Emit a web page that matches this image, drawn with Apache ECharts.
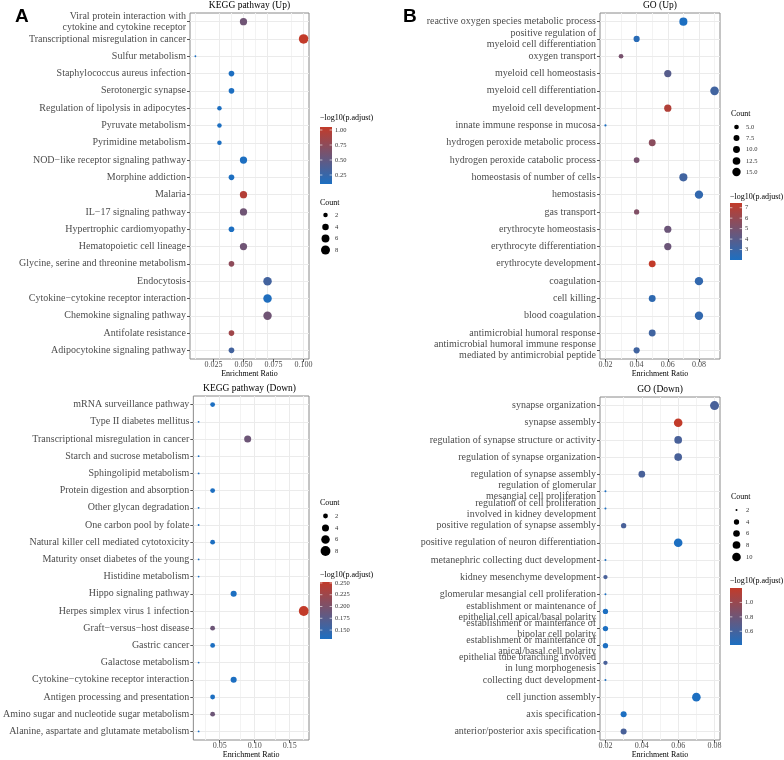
<!DOCTYPE html>
<html><head><meta charset="utf-8">
<script src="https://cdn.jsdelivr.net/npm/echarts@6/dist/echarts.min.js"></script>
<style>html,body{margin:0;padding:0;background:#fff}#c{width:784px;height:760px}</style>
</head><body><div id="c"></div><script>
// ---------------- DATA ----------------
const keggUpTerms = ['Viral protein interaction with\ncytokine and cytokine receptor','Transcriptional misregulation in cancer','Sulfur metabolism','Staphylococcus aureus infection','Serotonergic synapse','Regulation of lipolysis in adipocytes','Pyruvate metabolism','Pyrimidine metabolism','NOD\u2212like receptor signaling pathway','Morphine addiction','Malaria','IL\u221217 signaling pathway','Hypertrophic cardiomyopathy','Hematopoietic cell lineage','Glycine, serine and threonine metabolism','Endocytosis','Cytokine\u2212cytokine receptor interaction','Chemokine signaling pathway','Antifolate resistance','Adipocytokine signaling pathway'];
const keggUpRatio = [0.05,0.10,0.01,0.04,0.04,0.03,0.03,0.03,0.05,0.04,0.05,0.05,0.04,0.05,0.04,0.07,0.07,0.07,0.04,0.04];
const keggUpCount = [5,9,1,3,3,2,2,2,5,3,5,5,3,5,3,7,7,7,3,3];
const keggUpLogP  = [0.58,1.05,0.10,0.10,0.10,0.10,0.10,0.10,0.10,0.10,0.97,0.58,0.10,0.58,0.75,0.32,0.12,0.58,0.85,0.32];
const keggUpXTicks = [0.025,0.05,0.075,0.1];
const keggUpXLabels = ['0.025','0.050','0.075','0.100'];
const keggUpCountTicks = [2,4,6,8];
const keggUpColorTicks = [1.00,0.75,0.50,0.25];
const keggUpColorLabels = ['1.00','0.75','0.50','0.25'];

const keggDownTerms = ['mRNA surveillance pathway','Type II diabetes mellitus','Transcriptional misregulation in cancer','Starch and sucrose metabolism','Sphingolipid metabolism','Protein digestion and absorption','Other glycan degradation','One carbon pool by folate','Natural killer cell mediated cytotoxicity','Maturity onset diabetes of the young','Histidine metabolism','Hippo signaling pathway','Herpes simplex virus 1 infection','Graft\u2212versus\u2212host disease','Gastric cancer','Galactose metabolism','Cytokine\u2212cytokine receptor interaction','Antigen processing and presentation','Amino sugar and nucleotide sugar metabolism','Alanine, aspartate and glutamate metabolism'];
const keggDownRatio = [0.04,0.02,0.09,0.02,0.02,0.04,0.02,0.02,0.04,0.02,0.02,0.07,0.17,0.04,0.04,0.02,0.07,0.04,0.04,0.02];
const keggDownCount = [2,1,4,1,1,2,1,1,2,1,1,3,8,2,2,1,3,2,2,1];
const keggDownLogP  = [0.131,0.131,0.19,0.131,0.131,0.131,0.131,0.131,0.131,0.131,0.131,0.131,0.252,0.19,0.131,0.131,0.131,0.131,0.19,0.131];
const keggDownXTicks = [0.05,0.10,0.15];
const keggDownXLabels = ['0.05','0.10','0.15'];
const keggDownCountTicks = [2,4,6,8];
const keggDownColorTicks = [0.250,0.225,0.200,0.175,0.150];
const keggDownColorLabels = ['0.250','0.225','0.200','0.175','0.150'];

const goUpTerms = ['reactive oxygen species metabolic process','positive regulation of\nmyeloid cell differentiation','oxygen transport','myeloid cell homeostasis','myeloid cell differentiation','myeloid cell development','innate immune response in mucosa','hydrogen peroxide metabolic process','hydrogen peroxide catabolic process','homeostasis of number of cells','hemostasis','gas transport','erythrocyte homeostasis','erythrocyte differentiation','erythrocyte development','coagulation','cell killing','blood coagulation','antimicrobial humoral response','antimicrobial humoral immune response\nmediated by antimicrobial peptide'];
const goUpRatio = [0.07,0.04,0.03,0.06,0.09,0.06,0.02,0.05,0.04,0.07,0.08,0.04,0.06,0.06,0.05,0.08,0.05,0.08,0.05,0.04];
const goUpCount = [14,8,5,11,16,11,3,10,7,14,15,6,11,11,10,15,10,15,10,8];
const goUpLogP  = [2.0,2.4,5.0,3.9,3.2,6.9,2.0,5.6,5.0,3.2,2.7,5.3,4.6,4.6,7.45,2.7,2.6,2.7,3.2,3.2];
const goUpXTicks = [0.02,0.04,0.06,0.08];
const goUpXLabels = ['0.02','0.04','0.06','0.08'];
const goUpCountTicks = [5,7.5,10,12.5,15];
const goUpCountLabels = ['5.0','7.5','10.0','12.5','15.0'];
const goUpColorTicks = [7,6,5,4,3];
const goUpColorLabels = ['7','6','5','4','3'];

const goDownTerms = ['synapse organization','synapse assembly','regulation of synapse structure or activity','regulation of synapse organization','regulation of synapse assembly','regulation of glomerular\nmesangial cell proliferation','regulation of cell proliferation\ninvolved in kidney development','positive regulation of synapse assembly','positive regulation of neuron differentiation','metanephric collecting duct development','kidney mesenchyme development','glomerular mesangial cell proliferation','establishment or maintenance of\nepithelial cell apical/basal polarity','establishment or maintenance of\nbipolar cell polarity','establishment or maintenance of\napical/basal cell polarity','epithelial tube branching involved\nin lung morphogenesis','collecting duct development','cell junction assembly','axis specification','anterior/posterior axis specification'];
const goDownRatio = [0.08,0.06,0.06,0.06,0.04,0.02,0.02,0.03,0.06,0.02,0.02,0.02,0.02,0.02,0.02,0.02,0.02,0.07,0.03,0.03];
const goDownCount = [11,10,8,8,6,2,2,4,10,2,3,2,4,4,4,3,2,10,5,5];
const goDownLogP  = [0.62,1.20,0.62,0.62,0.62,0.41,0.41,0.62,0.41,0.41,0.62,0.41,0.41,0.41,0.41,0.62,0.41,0.41,0.41,0.62];
const goDownXTicks = [0.02,0.04,0.06,0.08];
const goDownXLabels = ['0.02','0.04','0.06','0.08'];
const goDownCountTicks = [2,4,6,8,10];
const goDownColorTicks = [1.0,0.8,0.6];
const goDownColorLabels = ['1.0','0.8','0.6'];

// ---------------- STYLE / LAYOUT ----------------
const SERIF = 'Liberation Serif';
const LOW = '#1d6fc1', HIGH = '#c23b2a';
const GRIDC = '#ebebeb', MINORC = '#f3f3f3';

const panels = [
  {terms:keggUpTerms, ratio:keggUpRatio, count:keggUpCount, logp:keggUpLogP, xt:keggUpXTicks, xl:keggUpXLabels,
   ct:keggUpCountTicks, cl:keggUpCountTicks.map(String), colT:keggUpColorTicks, colL:keggUpColorLabels,
   grid:{left:190,top:13,width:119,height:346}, title:'KEGG pathway (Up)', dmin:1.8, dmax:9.5,
   sizeLeg:{x:320, titleY:203, ys:[215,227,238.5,250]}, colLeg:{x:320, titleY:118, top:127}},
  {terms:keggDownTerms, ratio:keggDownRatio, count:keggDownCount, logp:keggDownLogP, xt:keggDownXTicks, xl:keggDownXLabels,
   ct:keggDownCountTicks, cl:keggDownCountTicks.map(String), colT:keggDownColorTicks, colL:keggDownColorLabels,
   grid:{left:190,top:396,width:119,height:347}, title:'KEGG pathway (Down)', dmin:1.8, dmax:9.8,
   sizeLeg:{x:320, titleY:503, ys:[516,528,539.5,551]}, colLeg:{x:320, titleY:575, top:582}},
  {terms:goUpTerms, ratio:goUpRatio, count:goUpCount, logp:goUpLogP, xt:goUpXTicks, xl:goUpXLabels,
   ct:goUpCountTicks, cl:goUpCountLabels, colT:goUpColorTicks, colL:goUpColorLabels,
   grid:{left:600,top:13,width:120,height:346}, title:'GO (Up)', dmin:2.2, dmax:8.6,
   sizeLeg:{x:731, titleY:114, ys:[127,138,149.5,161,172]}, colLeg:{x:730, titleY:197, top:203}},
  {terms:goDownTerms, ratio:goDownRatio, count:goDownCount, logp:goDownLogP, xt:goDownXTicks, xl:goDownXLabels,
   ct:goDownCountTicks, cl:goDownCountTicks.map(String), colT:goDownColorTicks, colL:goDownColorLabels,
   grid:{left:600,top:397,width:120,height:346}, title:'GO (Down)', dmin:2.0, dmax:9.0,
   sizeLeg:{x:731, titleY:497, ys:[510,522,533.5,545,557]}, colLeg:{x:730, titleY:581, top:588}}
];

const mn = a => Math.min.apply(null, a), mx = a => Math.max.apply(null, a);
function sizeFn(p){
  const c0 = mn(p.count), c1 = mx(p.count);
  return c => p.dmin + (p.dmax - p.dmin) * Math.sqrt(Math.max(0, (c - c0)) / (c1 - c0));
}

const grids = [], xAxes = [], yAxes = [], series = [], visualMaps = [], graphics = [];

panels.forEach((p, i) => {
  const sz = sizeFn(p);
  const r0 = mn(p.ratio), r1 = mx(p.ratio), pad = 0.05 * (r1 - r0);
  const xmin = r0 - pad, xmax = r1 + pad;
  grids.push(Object.assign({show:true, borderColor:'#8a8a8a', borderWidth:1, backgroundColor:'#fff'}, p.grid));
  xAxes.push({type:'value', gridIndex:i, min:xmin, max:xmax,
    axisLine:{show:false}, splitLine:{show:false},
    axisTick:{show:true, customValues:p.xt, length:3, lineStyle:{color:'#555'}},
    axisLabel:{customValues:p.xt, formatter:v => p.xl[p.xt.findIndex(t => Math.abs(t - v) < 1e-9)] || '',
      fontSize:8, fontFamily:SERIF, color:'#4d4d4d', margin:2},
    name:'Enrichment Ratio', nameLocation:'middle', nameGap:11,
    nameTextStyle:{fontSize:8, fontFamily:SERIF, color:'#000'}});
  yAxes.push({type:'category', gridIndex:i, data:p.terms, inverse:true,
    axisLine:{show:false}, splitLine:{show:false},
    axisTick:{show:true, alignWithLabel:true, length:3, lineStyle:{color:'#555'}},
    axisLabel:{interval:0, fontSize:10, fontFamily:SERIF, color:'#4d4d4d', margin:4, lineHeight:11}});
  // gridlines (major & minor) through the axes' own scales
  const step = p.xt[1] - p.xt[0];
  const minors = [];
  for (let k = -1; k < p.xt.length; k++) {
    const m = (k < 0 ? p.xt[0] - step : p.xt[k]) + step / 2;
    if (m > xmin && m < xmax) minors.push(m);
  }
  series.push({type:'scatter', xAxisIndex:i, yAxisIndex:i, data:[], z:1, silent:true, animation:false,
    markLine:{silent:true, z:1, animation:false, symbol:['none','none'], label:{show:false},
      lineStyle:{color:MINORC, width:1, type:'solid'}, emphasis:{disabled:true},
      data: minors.map(v => ({xAxis:v}))}});
  series.push({type:'scatter', xAxisIndex:i, yAxisIndex:i, data:[], z:1, silent:true, animation:false,
    markLine:{silent:true, z:1, animation:false, symbol:['none','none'], label:{show:false},
      lineStyle:{color:GRIDC, width:1, type:'solid'}, emphasis:{disabled:true},
      data: p.xt.map(v => ({xAxis:v})).concat(p.terms.map((t, j) => ({yAxis:j})))}});
  const sIdx = series.length;
  series.push({type:'scatter', xAxisIndex:i, yAxisIndex:i, z:3, animation:false,
    data:p.terms.map((t, j) => [p.ratio[j], j, p.count[j], p.logp[j]]),
    symbolSize: v => sz(v[2]), itemStyle:{opacity:1}, emphasis:{disabled:true}});
  const l0 = mn(p.logp), l1 = mx(p.logp);
  visualMaps.push({type:'continuous', show:false, seriesIndex:sIdx, dimension:3, min:l0, max:l1,
    inRange:{color:[LOW, HIGH]}});

  // titles
  graphics.push({type:'text', x:p.grid.left + p.grid.width / 2, y:p.grid.top - 8,
    style:{text:p.title, font:`9.5px "${SERIF}"`, fill:'#000', align:'center', verticalAlign:'middle'}});

  // colour bar legend
  const cb = p.colLeg, H = 57, W = 12;
  graphics.push({type:'text', x:cb.x, y:cb.titleY,
    style:{text:'\u2212log10(p.adjust)', font:`8px "${SERIF}"`, fill:'#000', align:'left', verticalAlign:'middle'}});
  graphics.push({type:'rect', shape:{x:cb.x, y:cb.top, width:W, height:H},
    style:{fill:new echarts.graphic.LinearGradient(0, 0, 0, 1, [{offset:0, color:HIGH}, {offset:1, color:LOW}])}});
  p.colT.forEach((t, k) => {
    const yy = cb.top + (l1 - t) / (l1 - l0) * H;
    graphics.push({type:'line', shape:{x1:cb.x, y1:yy, x2:cb.x + 2.4, y2:yy}, style:{stroke:'#fff', lineWidth:0.6}});
    graphics.push({type:'line', shape:{x1:cb.x + W - 2.4, y1:yy, x2:cb.x + W, y2:yy}, style:{stroke:'#fff', lineWidth:0.6}});
    graphics.push({type:'text', x:cb.x + W + 3, y:yy,
      style:{text:p.colL[k], font:`6.5px "${SERIF}"`, fill:'#333', align:'left', verticalAlign:'middle'}});
  });

  // size legend
  const sl = p.sizeLeg;
  graphics.push({type:'text', x:sl.x, y:sl.titleY,
    style:{text:'Count', font:`8px "${SERIF}"`, fill:'#000', align:'left', verticalAlign:'middle'}});
  p.ct.forEach((c, k) => {
    graphics.push({type:'circle', shape:{cx:sl.x + 5.5, cy:sl.ys[k], r:sz(c) / 2}, style:{fill:'#000'}});
    graphics.push({type:'text', x:sl.x + 15, y:sl.ys[k],
      style:{text:p.cl[k], font:`6.5px "${SERIF}"`, fill:'#333', align:'left', verticalAlign:'middle'}});
  });
});

graphics.push({type:'text', x:15, y:17, style:{text:'A', font:'bold 19px "Liberation Sans"', fill:'#000', align:'left', verticalAlign:'middle'}});
graphics.push({type:'text', x:403, y:17, style:{text:'B', font:'bold 19px "Liberation Sans"', fill:'#000', align:'left', verticalAlign:'middle'}});

const chart = echarts.init(document.getElementById('c'), null, {renderer:'canvas'});
chart.setOption({
  animation:false, backgroundColor:'#fff',
  grid:grids, xAxis:xAxes, yAxis:yAxes, series:series, visualMap:visualMaps,
  graphic:{elements:graphics}
});
</script></body></html>
